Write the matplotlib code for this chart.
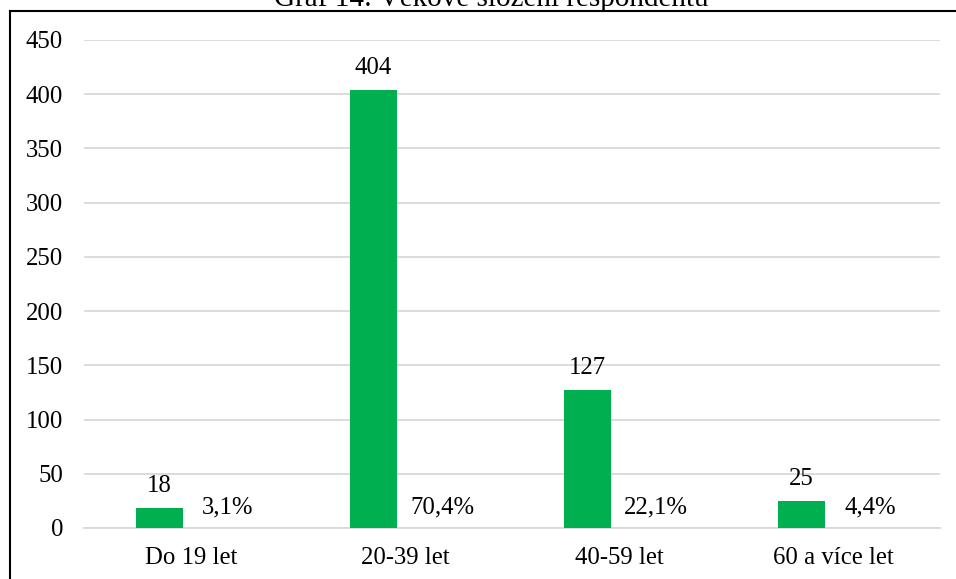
import matplotlib
matplotlib.use("Agg")
import matplotlib.pyplot as plt
import numpy as np
from matplotlib.lines import Line2D

categories = ["Do 19 let", "20-39 let", "40-59 let", "60 a více let"]
counts = [18, 404, 127, 25]
percent_labels = ["3,1%", "70,4%", "22,1%", "4,4%"]
yticks = [0, 50, 100, 150, 200, 250, 300, 350, 400, 450]
title = "Graf 14: Věkové složení respondentů"

plt.rcParams['font.family'] = ['Liberation Serif', 'DejaVu Serif']
FS = 17.8

W, H = 956, 579
fig = plt.figure(figsize=(W / 100, H / 100), dpi=100)
ax = fig.add_axes([84 / W, 1 - 528 / H, (940 - 84) / W, (528 - 40) / H])

x = np.arange(len(categories))
bar_off = -0.147
pct_off = 0.173
bars = ax.bar(x + bar_off, counts, width=0.22, color="#00B050", zorder=3)

for xi, c in zip(x, counts):
    ax.annotate(str(c), (xi + bar_off, c), xytext=(0, 8), textcoords="offset points",
                ha="center", va="bottom", fontsize=FS, color="#000000")
for xi, p in zip(x, percent_labels):
    ax.annotate(p, (xi + pct_off, 0), xytext=(0, 14.5), textcoords="offset points",
                ha="center", va="center", fontsize=FS, color="#000000")

ax.set_xlim(-0.5, len(categories) - 0.5)
ax.set_ylim(0, 450)
ax.set_yticks(yticks)
ax.set_yticklabels([str(v) for v in yticks], fontsize=FS)
ax.set_xticks(x)
ax.set_xticklabels(categories, fontsize=FS)
ax.tick_params(axis="both", length=0, colors="#000000")
ax.tick_params(axis="y", pad=15)
ax.tick_params(axis="x", pad=14)
ax.yaxis.grid(True, color="#d9d9d9", linewidth=1.3, zorder=0)
ax.set_axisbelow(True)
for s in ["top", "right", "left"]:
    ax.spines[s].set_visible(False)
ax.spines["bottom"].set_color("#d9d9d9")
ax.spines["bottom"].set_linewidth(1.3)

# outer border (chart frame)
fig.add_artist(Line2D([10 / W, 10 / W], [0, 1 - 11 / H], color="black", linewidth=1.5,
                      transform=fig.transFigure))
fig.add_artist(Line2D([10 / W, 1], [1 - 11 / H, 1 - 11 / H], color="black", linewidth=1.5,
                      transform=fig.transFigure))

fig.text(491 / W, 1 - 6 / H, title, ha="center", va="baseline", fontsize=21)

fig.savefig("out.png", dpi=100)
